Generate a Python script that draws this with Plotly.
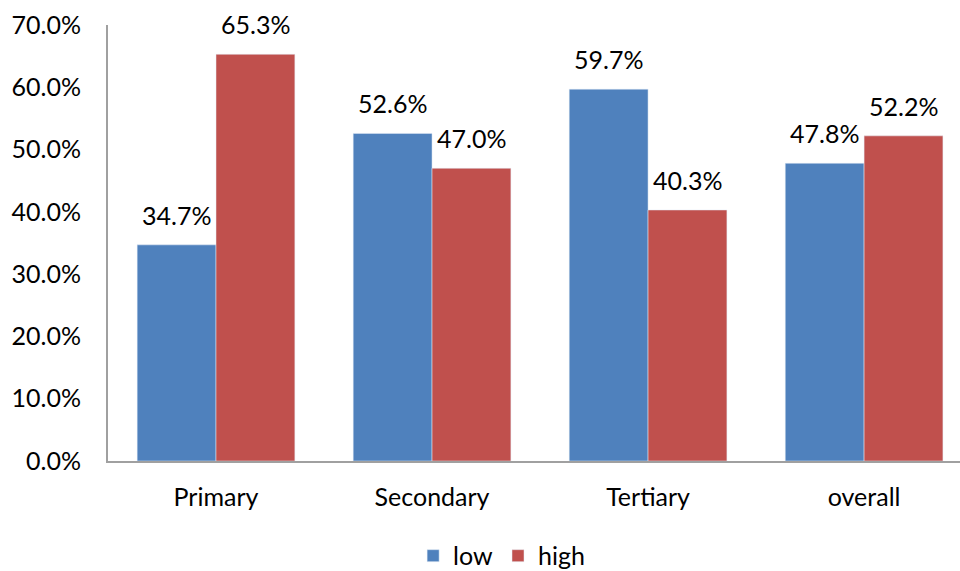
import plotly.graph_objects as go

categories = ["Primary", "Secondary", "Tertiary", "overall"]
low = [34.7, 52.6, 59.7, 47.8]
high = [65.3, 47.0, 40.3, 52.2]
tick_vals = [0, 10, 20, 30, 40, 50, 60, 70]
tick_text = ["0.0%", "10.0%", "20.0%", "30.0%", "40.0%", "50.0%", "60.0%", "70.0%"]

FONT = "Lato"
FS = 25
BARGAP = 0.27
HALF = (1 - BARGAP) / 4  # offset of each bar centre from the category centre

fig = go.Figure()
fig.add_trace(go.Bar(name="low", x=categories, y=low, marker_color="#4F81BD"))
fig.add_trace(go.Bar(name="high", x=categories, y=high, marker_color="#C0504D"))

# data labels above the bars
for vals, shift in ((low, -HALF), (high, HALF)):
    for i, v in enumerate(vals):
        fig.add_annotation(x=i + shift, y=v, text=f"{v:.1f}%", showarrow=False,
                           yanchor="bottom", yshift=13, xref="x", yref="y",
                           font=dict(size=FS, family=FONT, color="black"))

fig.update_layout(
    width=960, height=571,
    margin=dict(l=108, r=0, t=25, b=110, autoexpand=False),
    barmode="group", bargap=BARGAP, bargroupgap=0,
    plot_bgcolor="white", paper_bgcolor="white",
    font=dict(family=FONT, size=FS, color="black"),
    showlegend=True,
    legend=dict(orientation="h", x=0.462, xanchor="center", y=-0.165, yanchor="top",
                font=dict(size=FS), itemwidth=30),
)
fig.update_yaxes(range=[0, 70], tickvals=tick_vals, ticktext=tick_text,
                 showgrid=False, showline=True, linecolor="#A0A0A0", linewidth=2,
                 ticks="", zeroline=False, tickfont=dict(size=FS), automargin=False,
                 ticklabelstandoff=20)
fig.update_xaxes(range=[-0.5, 3.444], showline=True, linecolor="#A0A0A0", linewidth=2,
                 ticks="", tickfont=dict(size=FS), showgrid=False, automargin=False,
                 ticklabelstandoff=13)

fig.write_html("out.html", config={"displayModeBar": False},
               post_script="document.body.style.margin='0px';document.body.style.overflow='hidden';")
